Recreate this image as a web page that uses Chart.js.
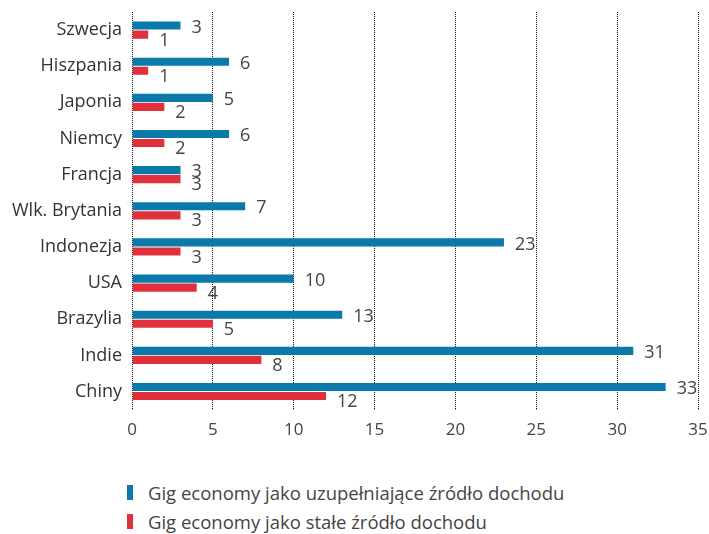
<!DOCTYPE html>
<html>
<head>
<meta charset="utf-8">
<script src="https://cdn.jsdelivr.net/npm/chart.js@4"></script>
<style>
  body { margin: 0; background: #fff; font-family: "Open Sans", sans-serif; }
  #wrap { position: relative; width: 709px; height: 450px; }
  .legend { position: absolute; left: 127px; top: 478px; color: #444; font-size: 18.5px; }
  .legend div { display: flex; align-items: center; height: 29px; }
  .legend span { display: inline-block; width: 6px; height: 15px; margin-right: 15px; }
</style>
</head>
<body>
<div id="wrap"><canvas id="chart"></canvas></div>
<div class="legend">
  <div><span style="background:#0a7aab"></span>Gig economy jako uzupełniające źródło dochodu</div>
  <div><span style="background:#e0303c"></span>Gig economy jako stałe źródło dochodu</div>
</div>
<script>
// kraje i wartości (%)
const countries = ['Szwecja', 'Hiszpania', 'Japonia', 'Niemcy', 'Francja', 'Wlk. Brytania',
    'Indonezja', 'USA', 'Brazylia', 'Indie', 'Chiny'];
const supplementary = [3, 6, 5, 6, 3, 7, 23, 10, 13, 31, 33];
const permanent = [1, 1, 2, 2, 3, 3, 3, 4, 5, 8, 12];
const xTicks = [0, 5, 10, 15, 20, 25, 30, 35];

const FONT = '"Open Sans", sans-serif';

// etykiety wartości obok słupków
const valueLabels = {
    id: 'valueLabels',
    afterDatasetsDraw(chart) {
        const ctx = chart.ctx;
        ctx.save();
        ctx.fillStyle = '#444';
        ctx.font = '18px ' + FONT;
        ctx.textBaseline = 'middle';
        ctx.textAlign = 'left';
        chart.data.datasets.forEach((ds, i) => {
            chart.getDatasetMeta(i).data.forEach((bar, j) => {
                const dy = i === 0 ? 2 : 6;
                ctx.fillText(ds.data[j], bar.x + 11, bar.y + dy);
            });
        });
        ctx.restore();
    }
};

new Chart(document.getElementById('chart'), {
    type: 'bar',
    data: {
        labels: countries,
        datasets: [
            { label: 'uzupełniające', data: supplementary, backgroundColor: '#0a7aab' },
            { label: 'stałe', data: permanent, backgroundColor: '#e0303c' }
        ]
    },
    options: {
        indexAxis: 'y',
        responsive: true,
        maintainAspectRatio: false,
        animation: false,
        layout: { padding: { top: 12, right: 11, left: 0, bottom: 0 } },
        datasets: { bar: { categoryPercentage: 0.5, barPercentage: 0.9 } },
        plugins: { legend: { display: false }, tooltip: { enabled: false } },
        scales: {
            x: {
                min: 0,
                max: 35,
                afterBuildTicks: s => { s.ticks = xTicks.map(v => ({ value: v })); },
                afterFit: s => { s.paddingLeft = 0; s.paddingRight = 0; },
                grid: { color: '#111', tickLength: 0, lineWidth: 1 },
                border: { display: false, dash: [1, 1] },
                ticks: { color: '#444', font: { size: 17, family: FONT }, padding: 10 }
            },
            y: {
                afterFit: s => { s.width = 132; s.paddingTop = 0; s.paddingBottom = 0; },
                grid: { display: false, tickLength: 0 },
                border: { display: false },
                ticks: { color: '#333', font: { size: 18, family: FONT }, padding: 10 }
            }
        }
    },
    plugins: [valueLabels]
});
</script>
</body>
</html>
